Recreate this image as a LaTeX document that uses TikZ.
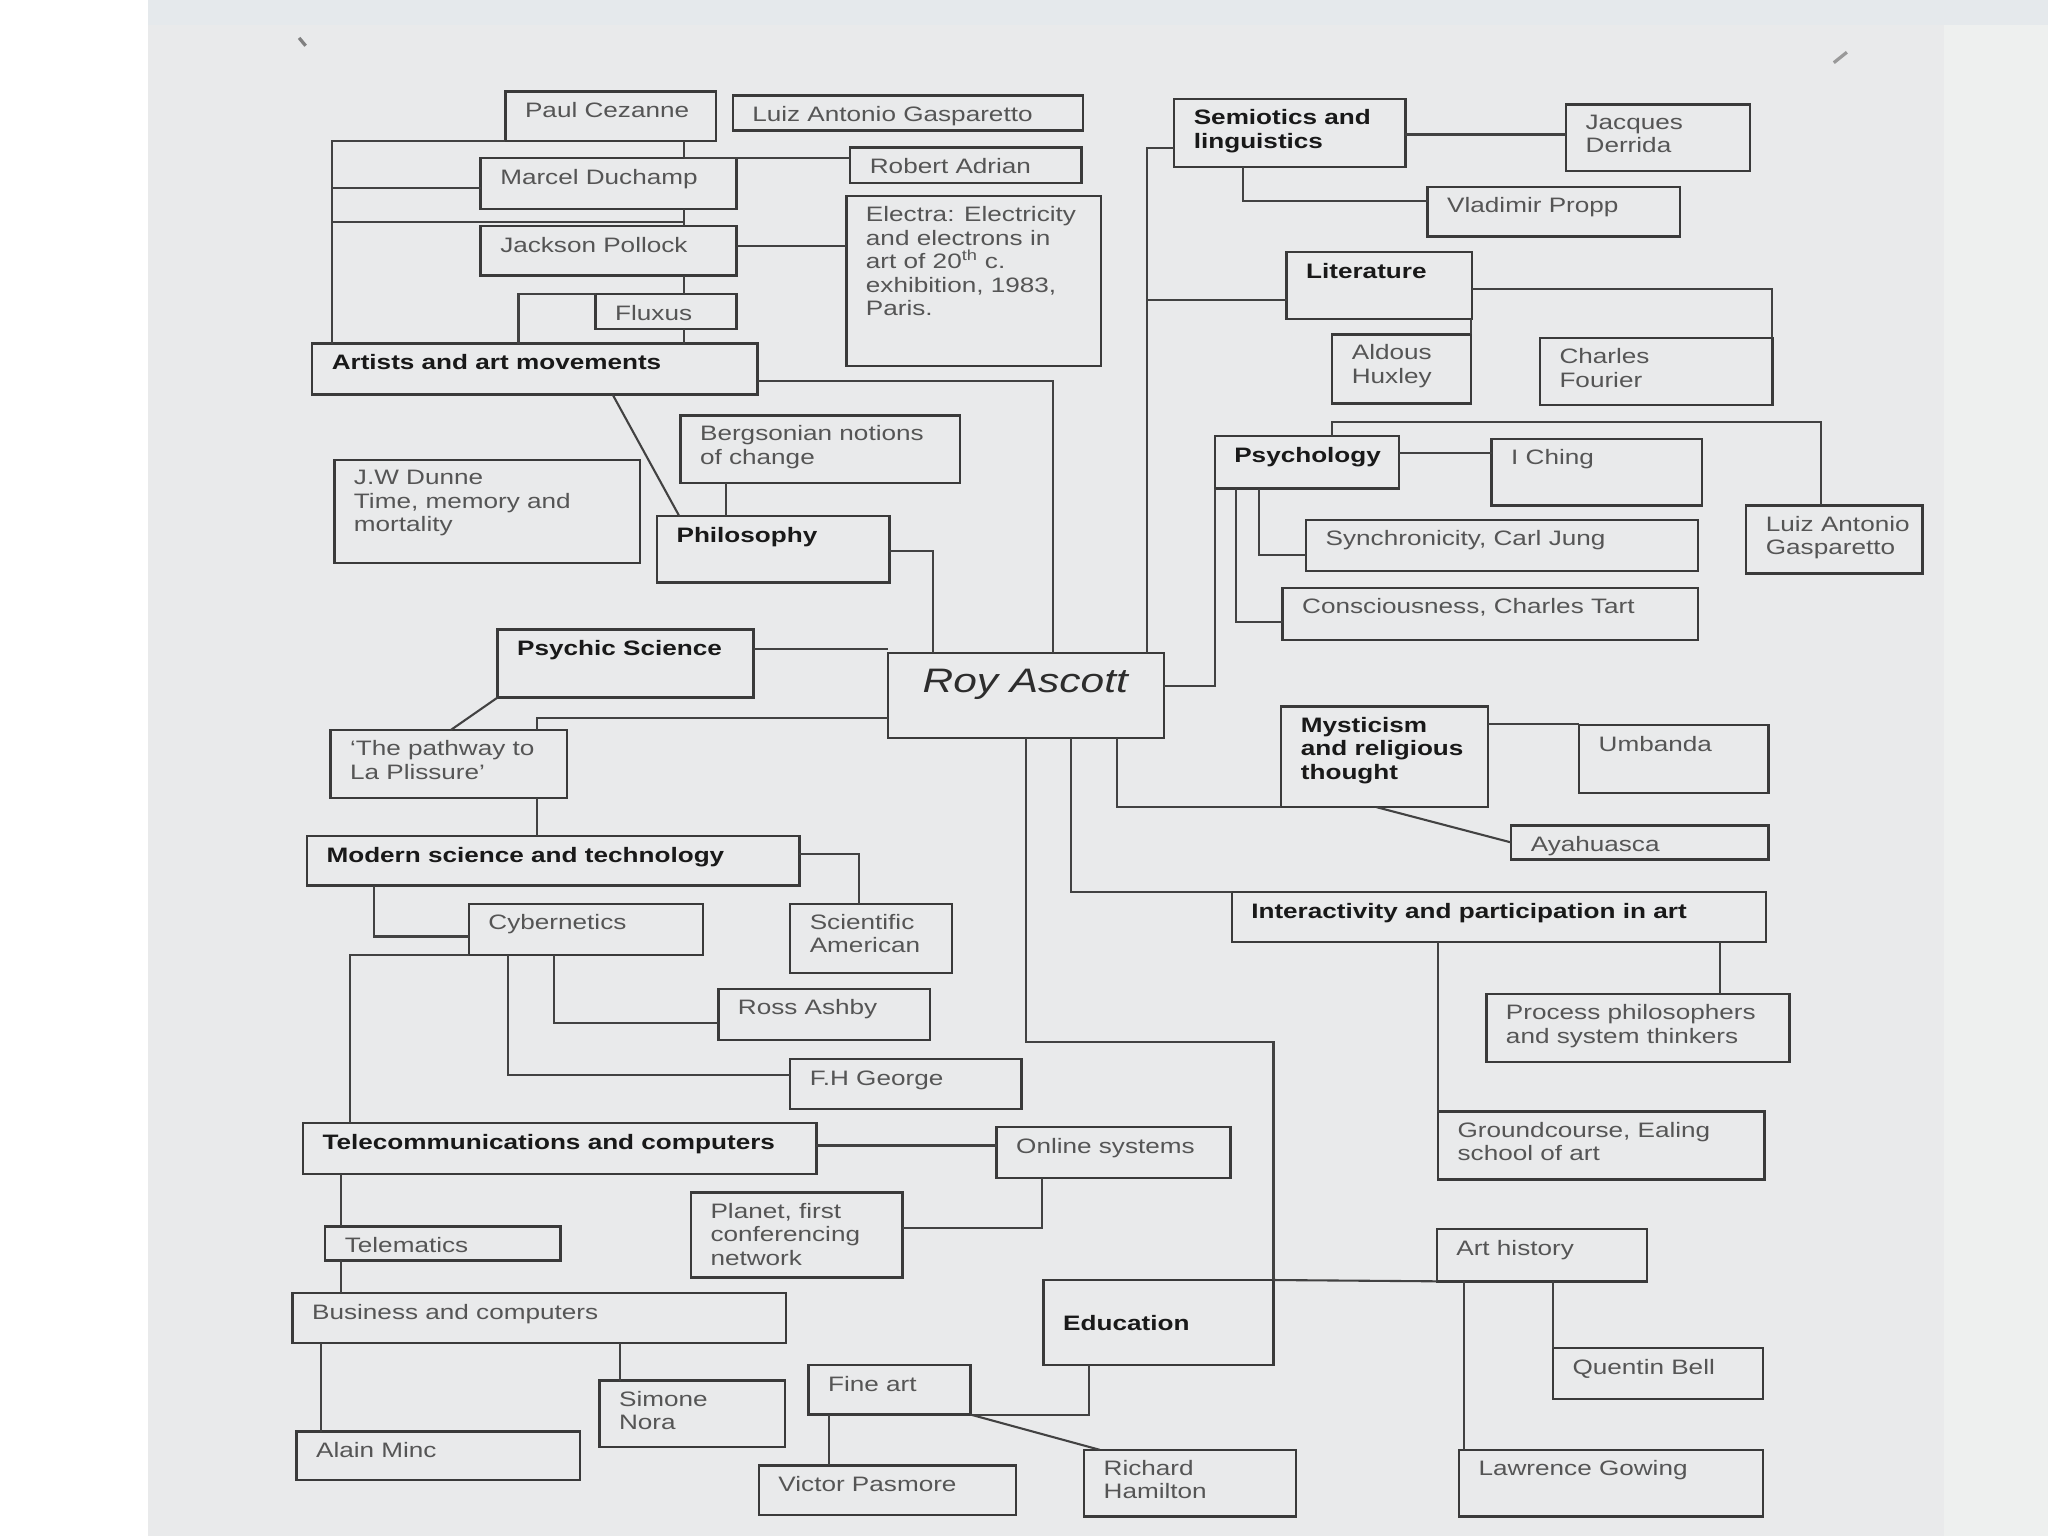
\documentclass[tikz,border=0pt]{standalone}
\usepackage{fontspec}
\setmainfont{Liberation Sans}[FakeStretch=1.25]
\definecolor{paper}{RGB}{233,234,235}
\definecolor{topc}{RGB}{229,233,236}
\definecolor{rightc}{RGB}{238,240,239}
\definecolor{edge}{RGB}{58,58,58}
\definecolor{wire}{RGB}{66,66,66}
\definecolor{txtc}{RGB}{85,85,85}
\definecolor{boldc}{RGB}{25,25,25}
\tikzset{
  boxst/.style={draw=edge, line width=1.8pt, inner sep=0pt, outer sep=0pt, rectangle},
  txt/.style={font=\fontsize{16}{18}\selectfont, text=txtc, inner sep=0pt, outer sep=0pt, align=left, execute at begin node={\rule{0pt}{12pt}}},
  txtb/.style={txt, font=\fontsize{16}{18}\selectfont\bfseries, text=boldc},
  conn/.style={draw=wire, line width=1.6pt}
}
\newcommand{\bx}[7][txt]{%
  \node[boxst, minimum width={(#5)-(#3)}, minimum height={(#6)-(#4)}, anchor=north west] (#2) at (#3,#4) {};
  \node[#1, anchor=north west] (#2-t) at ([shift={(15,8)}]#2.north west) {#7};
}
\begin{document}
\begin{tikzpicture}[x=1pt,y=-1pt]
\useasboundingbox (0,0) rectangle (1568,1176);
% background
\fill[white] (0,0) rectangle (1568,1176);
\fill[topc] (113,0) rectangle (1568,19);
\fill[paper] (113,19) rectangle (1488,1176);
\fill[rightc] (1488,19) rectangle (1568,1176);
\draw[gray, line width=2.5pt] (229,29) -- (234,35);
\draw[gray!80, line width=2.5pt] (1404,48) -- (1414,40);

% ---------- boxes, left ----------
\bx{pc}{387}{70}{548}{108}{Paul Cezanne}
\bx{lag}{561}{73}{829}{100}{Luiz Antonio Gasparetto}
\bx{md}{368}{121}{564}{160}{Marcel Duchamp}
\bx{ra}{651}{113}{828}{140}{Robert Adrian}
\bx{el}{648}{150}{843}{280}{Electra: Electricity\\and electrons in\\art of 20\textsuperscript{th} c.\\exhibition, 1983,\\Paris.}
\bx{jp}{368}{173}{564}{211}{Jackson Pollock}
\bx{fl}{456}{225}{564}{252}{Fluxus}
\bx[txtb]{art}{239}{263}{580}{302}{Artists and art movements}
\bx{bg}{521}{318}{735}{370}{Bergsonian notions\\of change}
\bx{jw}{256}{352}{490}{431}{J.W Dunne\\Time, memory and\\mortality}
\bx[txtb]{ph}{503}{395}{681}{446}{Philosophy}
\bx[txtb]{ps}{381}{482}{577}{534}{Psychic Science}
\node[boxst, minimum width=211, minimum height=65, anchor=north west] (roy) at (680,500) {};
\node[font=\fontsize{26}{30}\selectfont\itshape, text={rgb,255:red,45;green,45;blue,45}, inner sep=0pt, anchor=base] (roy-t) at (785,530) {Roy Ascott};
\bx{pw}{253}{559}{434}{611}{`The pathway to\\La Plissure'}
\bx[txtb]{ms}{235}{640}{612}{678}{Modern science and technology}
\bx{cy}{359}{692}{538}{731}{Cybernetics}
\bx{sa}{605}{692}{729}{745}{Scientific\\American}
\bx{rs}{550}{757}{712}{796}{Ross Ashby}
\bx{fh}{605}{811}{782}{849}{F.H George}
\bx[txtb]{tc}{232}{860}{625}{899}{Telecommunications and computers}
\bx{os}{763}{863}{942}{902}{Online systems}
\bx{tm}{249}{939}{429}{965}{Telematics}
\bx{pl}{529}{913}{691}{978}{Planet, first\\conferencing\\network}
\bx{bc}{224}{990}{602}{1028}{Business and computers}
\node[boxst, minimum width=176, minimum height=65, anchor=north west] (ed) at (799,980) {};
\node[txtb, anchor=north west] (ed-t) at (814,1007) {Education};
\bx{fa}{619}{1045}{743}{1083}{Fine art}
\bx{sn}{459}{1057}{601}{1108}{Simone\\Nora}
\bx{am}{227}{1096}{444}{1133}{Alain Minc}
\bx{vp}{581}{1122}{778}{1160}{Victor Pasmore}
\bx{rh}{830}{1110}{992}{1161}{Richard\\Hamilton}

% ---------- boxes, right ----------
\bx[txtb]{se}{899}{76}{1076}{128}{Semiotics and\\linguistics}
\bx{jd}{1199}{80}{1340}{131}{Jacques\\Derrida}
\bx{pr}{1093}{143}{1286}{181}{Vladimir Propp}
\bx[txtb]{li}{985}{193}{1127}{244}{Literature}
\bx{ax}{1020}{256}{1126}{309}{Aldous\\Huxley}
\bx{cf}{1179}{259}{1357}{310}{Charles\\Fourier}
\bx[txtb]{py}{930}{334}{1071}{374}{Psychology}
\bx{ic}{1142}{336}{1303}{387}{I Ching}
\bx{lu}{1337}{387}{1472}{439}{Luiz Antonio\\Gasparetto}
\bx{sy}{1000}{398}{1300}{437}{Synchronicity, Carl Jung}
\bx{cs}{982}{450}{1300}{490}{Consciousness, Charles Tart}
\bx[txtb]{my}{981}{541}{1139}{618}{Mysticism\\and religious\\thought}
\bx{um}{1209}{555}{1354}{607}{Umbanda}
\bx{av}{1157}{632}{1354}{658}{Ayahuasca}
\bx[txtb]{ia}{943}{683}{1352}{721}{Interactivity and participation in art}
\bx{pp}{1138}{761}{1370}{813}{Process philosophers\\and system thinkers}
\bx{gc}{1101}{851}{1351}{903}{Groundcourse, Ealing\\school of art}
\bx{ah}{1100}{941}{1261}{981}{Art history}
\bx{qb}{1189}{1032}{1350}{1071}{Quentin Bell}
\bx{lw}{1117}{1110}{1350}{1161}{Lawrence Gowing}

% ---------- helper coordinates ----------
\coordinate (xA) at (254,0);  \coordinate (xB) at (524,0);
\coordinate (xC) at (397,0);  \coordinate (xD) at (556,0);
\coordinate (xE) at (411,0);  \coordinate (xF) at (635,0);
\coordinate (xG) at (475,0);  \coordinate (xH) at (246,0);
\coordinate (xI) at (261,0);  \coordinate (xJ) at (286,0);
\coordinate (xK) at (268,0);  \coordinate (xL) at (424,0);
\coordinate (xM) at (389,0);  \coordinate (xN) at (878,0);
\coordinate (xO) at (952,0);  \coordinate (xP) at (964,0);
\coordinate (xQ) at (946,0);  \coordinate (xR) at (1020,0);
\coordinate (xS) at (1317,0); \coordinate (xT) at (1121,0);
\coordinate (xU) at (658,0);  \coordinate (xV) at (798,0);
\coordinate (xW) at (834,0);  \coordinate (x806) at (806,0);
\coordinate (x469) at (469,0); \coordinate (x520) at (520,0);
\coordinate (x714) at (714,0); \coordinate (x345) at (345,0);
\coordinate (x855) at (855,0); \coordinate (x820) at (820,0);
\coordinate (x842) at (842,0); \coordinate (x1126) at (1126,0);
\coordinate (x1394) at (1394,0); \coordinate (x1054) at (1054,0);
\coordinate (y144) at (0,144); \coordinate (y170) at (0,170);
\coordinate (y188) at (0,188); \coordinate (y292) at (0,292);
\coordinate (y422) at (0,422); \coordinate (y497) at (0,497);
\coordinate (y550) at (0,550); \coordinate (y798) at (0,798);
\coordinate (y940) at (0,940); \coordinate (y877) at (0,877);
\coordinate (y654) at (0,654); \coordinate (y717) at (0,717);
\coordinate (y783) at (0,783); \coordinate (y823) at (0,823);
\coordinate (y113) at (0,113); \coordinate (y230) at (0,230);
\coordinate (y103) at (0,103); \coordinate (y154) at (0,154);
\coordinate (y221) at (0,221); \coordinate (y525) at (0,525);
\coordinate (y425) at (0,425); \coordinate (y476) at (0,476);
\coordinate (y347) at (0,347); \coordinate (y323) at (0,323);
\coordinate (y554) at (0,554);

% ---------- connectors, left ----------
\draw[conn] (xA |- art.north) -- (xA |- pc.south) -- (pc.south west);
\draw[conn] (xA |- y144) -- (md.west |- y144);
\draw[conn] (xA |- y170) -- (xB |- y170);
\draw[conn] (xB |- pc.south) -- (xB |- md.north);
\draw[conn] (xB |- md.south) -- (xB |- jp.north);
\draw[conn] (xB |- jp.south) -- (xB |- fl.north);
\draw[conn] (xB |- fl.south) -- (xB |- art.north);
\draw[conn] (xB |- md.north) -- (ra.west |- md.north);
\draw[conn] (jp.east |- y188) -- (el.west |- y188);
\draw[conn] (xC |- art.north) -- (xC |- fl.north) -- (fl.north west);
\draw[conn] (art.east |- y292) -| (x806 |- roy.north);
\draw[conn] (x469 |- art.south) -- (x520 |- ph.north);
\draw[conn] (xD |- bg.south) -- (xD |- ph.north);
\draw[conn] (ph.east |- y422) -| (x714 |- roy.north);
\draw[conn] (ps.east |- y497) -- (roy.west |- y497);
\draw[conn] (ps.south west) -- (x345 |- pw.north);
\draw[conn] (roy.west |- y550) -| (xE |- pw.north);
\draw[conn] (xE |- pw.south) -- (xE |- ms.north);
\draw[conn] (ms.east |- y654) -| (xU |- sa.north);
\draw[conn] (xJ |- ms.south) |- (cy.west |- y717);
\draw[conn] (xK |- tc.north) |- (cy.south west);
\draw[conn] (xL |- cy.south) |- (rs.west |- y783);
\draw[conn] (xM |- cy.south) |- (fh.west |- y823);
\draw[conn] (tc.east |- y877) -- (os.west |- y877);
\draw[conn] (pl.east |- y940) -| (xV |- os.south);
\draw[conn] (xI |- tc.south) -- (xI |- tm.north);
\draw[conn] (xI |- tm.south) -- (xI |- bc.north);
\draw[conn] (xG |- bc.south) -- (xG |- sn.north);
\draw[conn] (xH |- bc.south) -- (xH |- am.north);
\draw[conn] (xW |- ed.south) |- (fa.south east);
\draw[conn] (fa.south east) -- (x842 |- rh.north);
\draw[conn] (xF |- fa.south) -- (xF |- vp.north);

% ---------- connectors from Roy Ascott downwards ----------
\draw[conn] (x855 |- roy.south) |- (my.south west);
\draw[conn] (x820 |- roy.south) |- (ia.north west);
\draw[conn] (roy.south) |- (ed.north east |- y798) -- (ed.north east);
\draw[conn] (ed.north east) -- (ah.south west);
\draw[conn] (qb.north west |- ah.south) -- (qb.north west);
\draw[conn] (xT |- ah.south) -- (xT |- lw.north);

% ---------- connectors, right ----------
\draw[conn] (xN |- roy.north) |- (se.west |- y113);
\draw[conn] (xN |- y230) -- (li.west |- y230);
\draw[conn] (se.east |- y103) -- (jd.west |- y103);
\draw[conn] (xO |- se.south) |- (pr.west |- y154);
\draw[conn] (x1126 |- li.south) -- (ax.north east);
\draw[conn] (li.east |- y221) -| (cf.north east);
\draw[conn] (roy.east |- y525) -| (py.south west);
\draw[conn] (xP |- py.south) |- (sy.west |- y425);
\draw[conn] (xQ |- py.south) |- (cs.west |- y476);
\draw[conn] (py.east |- y347) -- (ic.west |- y347);
\draw[conn] (xR |- py.north) |- (x1394 |- y323) -- (x1394 |- lu.north);
\draw[conn] (my.east |- y554) -- (um.west |- y554);
\draw[conn] (x1054 |- my.south) -- (av.west);
\draw[conn] (xS |- ia.south) -- (xS |- pp.north);
\draw[conn] (gc.north west |- ia.south) -- (gc.north west);
\end{tikzpicture}
\end{document}
